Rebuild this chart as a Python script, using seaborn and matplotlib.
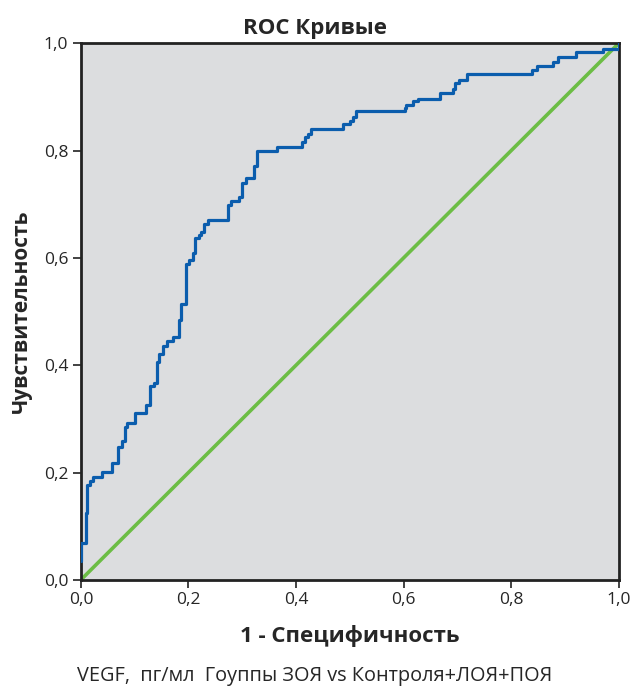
import numpy as np
import pandas as pd
import matplotlib
matplotlib.use('Agg')
import matplotlib.pyplot as plt
import seaborn as sns

# ROC curve steps (1 - specificity, sensitivity)
fpr = [0.000, 0.000, 0.009, 0.012, 0.017, 0.023, 0.039, 0.058, 0.069, 0.076,
       0.082, 0.085, 0.100, 0.121, 0.128, 0.136, 0.141, 0.145, 0.153, 0.161,
       0.172, 0.183, 0.187, 0.195, 0.201, 0.209, 0.213, 0.220, 0.224, 0.229,
       0.237, 0.274, 0.279, 0.294, 0.299, 0.307, 0.322, 0.327, 0.364, 0.411,
       0.416, 0.422, 0.428, 0.488, 0.500, 0.506, 0.511, 0.602, 0.605, 0.618,
       0.626, 0.667, 0.691, 0.695, 0.703, 0.717, 0.838, 0.848, 0.878, 0.887,
       0.920, 0.970, 1.000]
tpr = [0.035, 0.069, 0.125, 0.177, 0.184, 0.192, 0.201, 0.218, 0.248, 0.259,
       0.285, 0.292, 0.311, 0.325, 0.362, 0.367, 0.406, 0.420, 0.436, 0.446,
       0.453, 0.484, 0.515, 0.588, 0.596, 0.610, 0.638, 0.642, 0.649, 0.664,
       0.671, 0.698, 0.706, 0.713, 0.740, 0.748, 0.771, 0.799, 0.807, 0.816,
       0.826, 0.831, 0.841, 0.849, 0.855, 0.862, 0.873, 0.880, 0.885, 0.892,
       0.897, 0.907, 0.914, 0.926, 0.931, 0.942, 0.950, 0.957, 0.966, 0.974,
       0.983, 0.990, 1.000]
ref_x = [0.0, 1.0]
ref_y = [0.0, 1.0]

ticks = [0.0, 0.2, 0.4, 0.6, 0.8, 1.0]
tick_labels = ['0,0', '0,2', '0,4', '0,6', '0,8', '1,0']

title = 'ROC Кривые'
xlabel = '1 - Специфичность'
ylabel = 'Чувствительность'
caption = 'VEGF,  пг/мл  Гоуппы ЗОЯ vs Контроля+ЛОЯ+ПОЯ'

sns.set_style('ticks')
plt.rcParams['font.family'] = ['Open Sans', 'DejaVu Sans']

fig = plt.figure(figsize=(6.32, 6.87), dpi=100)
ax = fig.add_axes([0.128, 0.156, 0.851, 0.781])
ax.set_facecolor('#dcdddf')

roc = pd.DataFrame({'fpr': fpr, 'tpr': tpr})
sns.lineplot(x=ref_x, y=ref_y, ax=ax, color='#6cbd45', linewidth=2.6, zorder=2)
# value holds from each x until the next one -> steps-post
sns.lineplot(data=roc, x='fpr', y='tpr', ax=ax, color='#0b5dad', linewidth=2.3,
             drawstyle='steps-post', sort=False, estimator=None, zorder=3)

ax.set_xlim(0, 1)
ax.set_ylim(0, 1)
ax.set_xticks(ticks)
ax.set_xticklabels(tick_labels)
ax.set_yticks(ticks)
ax.set_yticklabels(tick_labels)
ax.tick_params(direction='out', length=6, width=1.2, color='#222222',
               labelsize=12.5, pad=3)
for s in ax.spines.values():
    s.set_visible(True)
    s.set_linewidth(2.0)
    s.set_color('#222222')

ax.set_xlabel(xlabel, fontsize=16, fontweight='bold', labelpad=12)
ax.set_ylabel(ylabel, fontsize=15, fontweight='bold', labelpad=9)
fig.text(0.498, 0.958, title, ha='center', va='center', fontsize=16, fontweight='bold')
fig.text(0.498, 0.016, caption, ha='center', va='center', fontsize=14.3)

fig.savefig('out.png', dpi=100)
